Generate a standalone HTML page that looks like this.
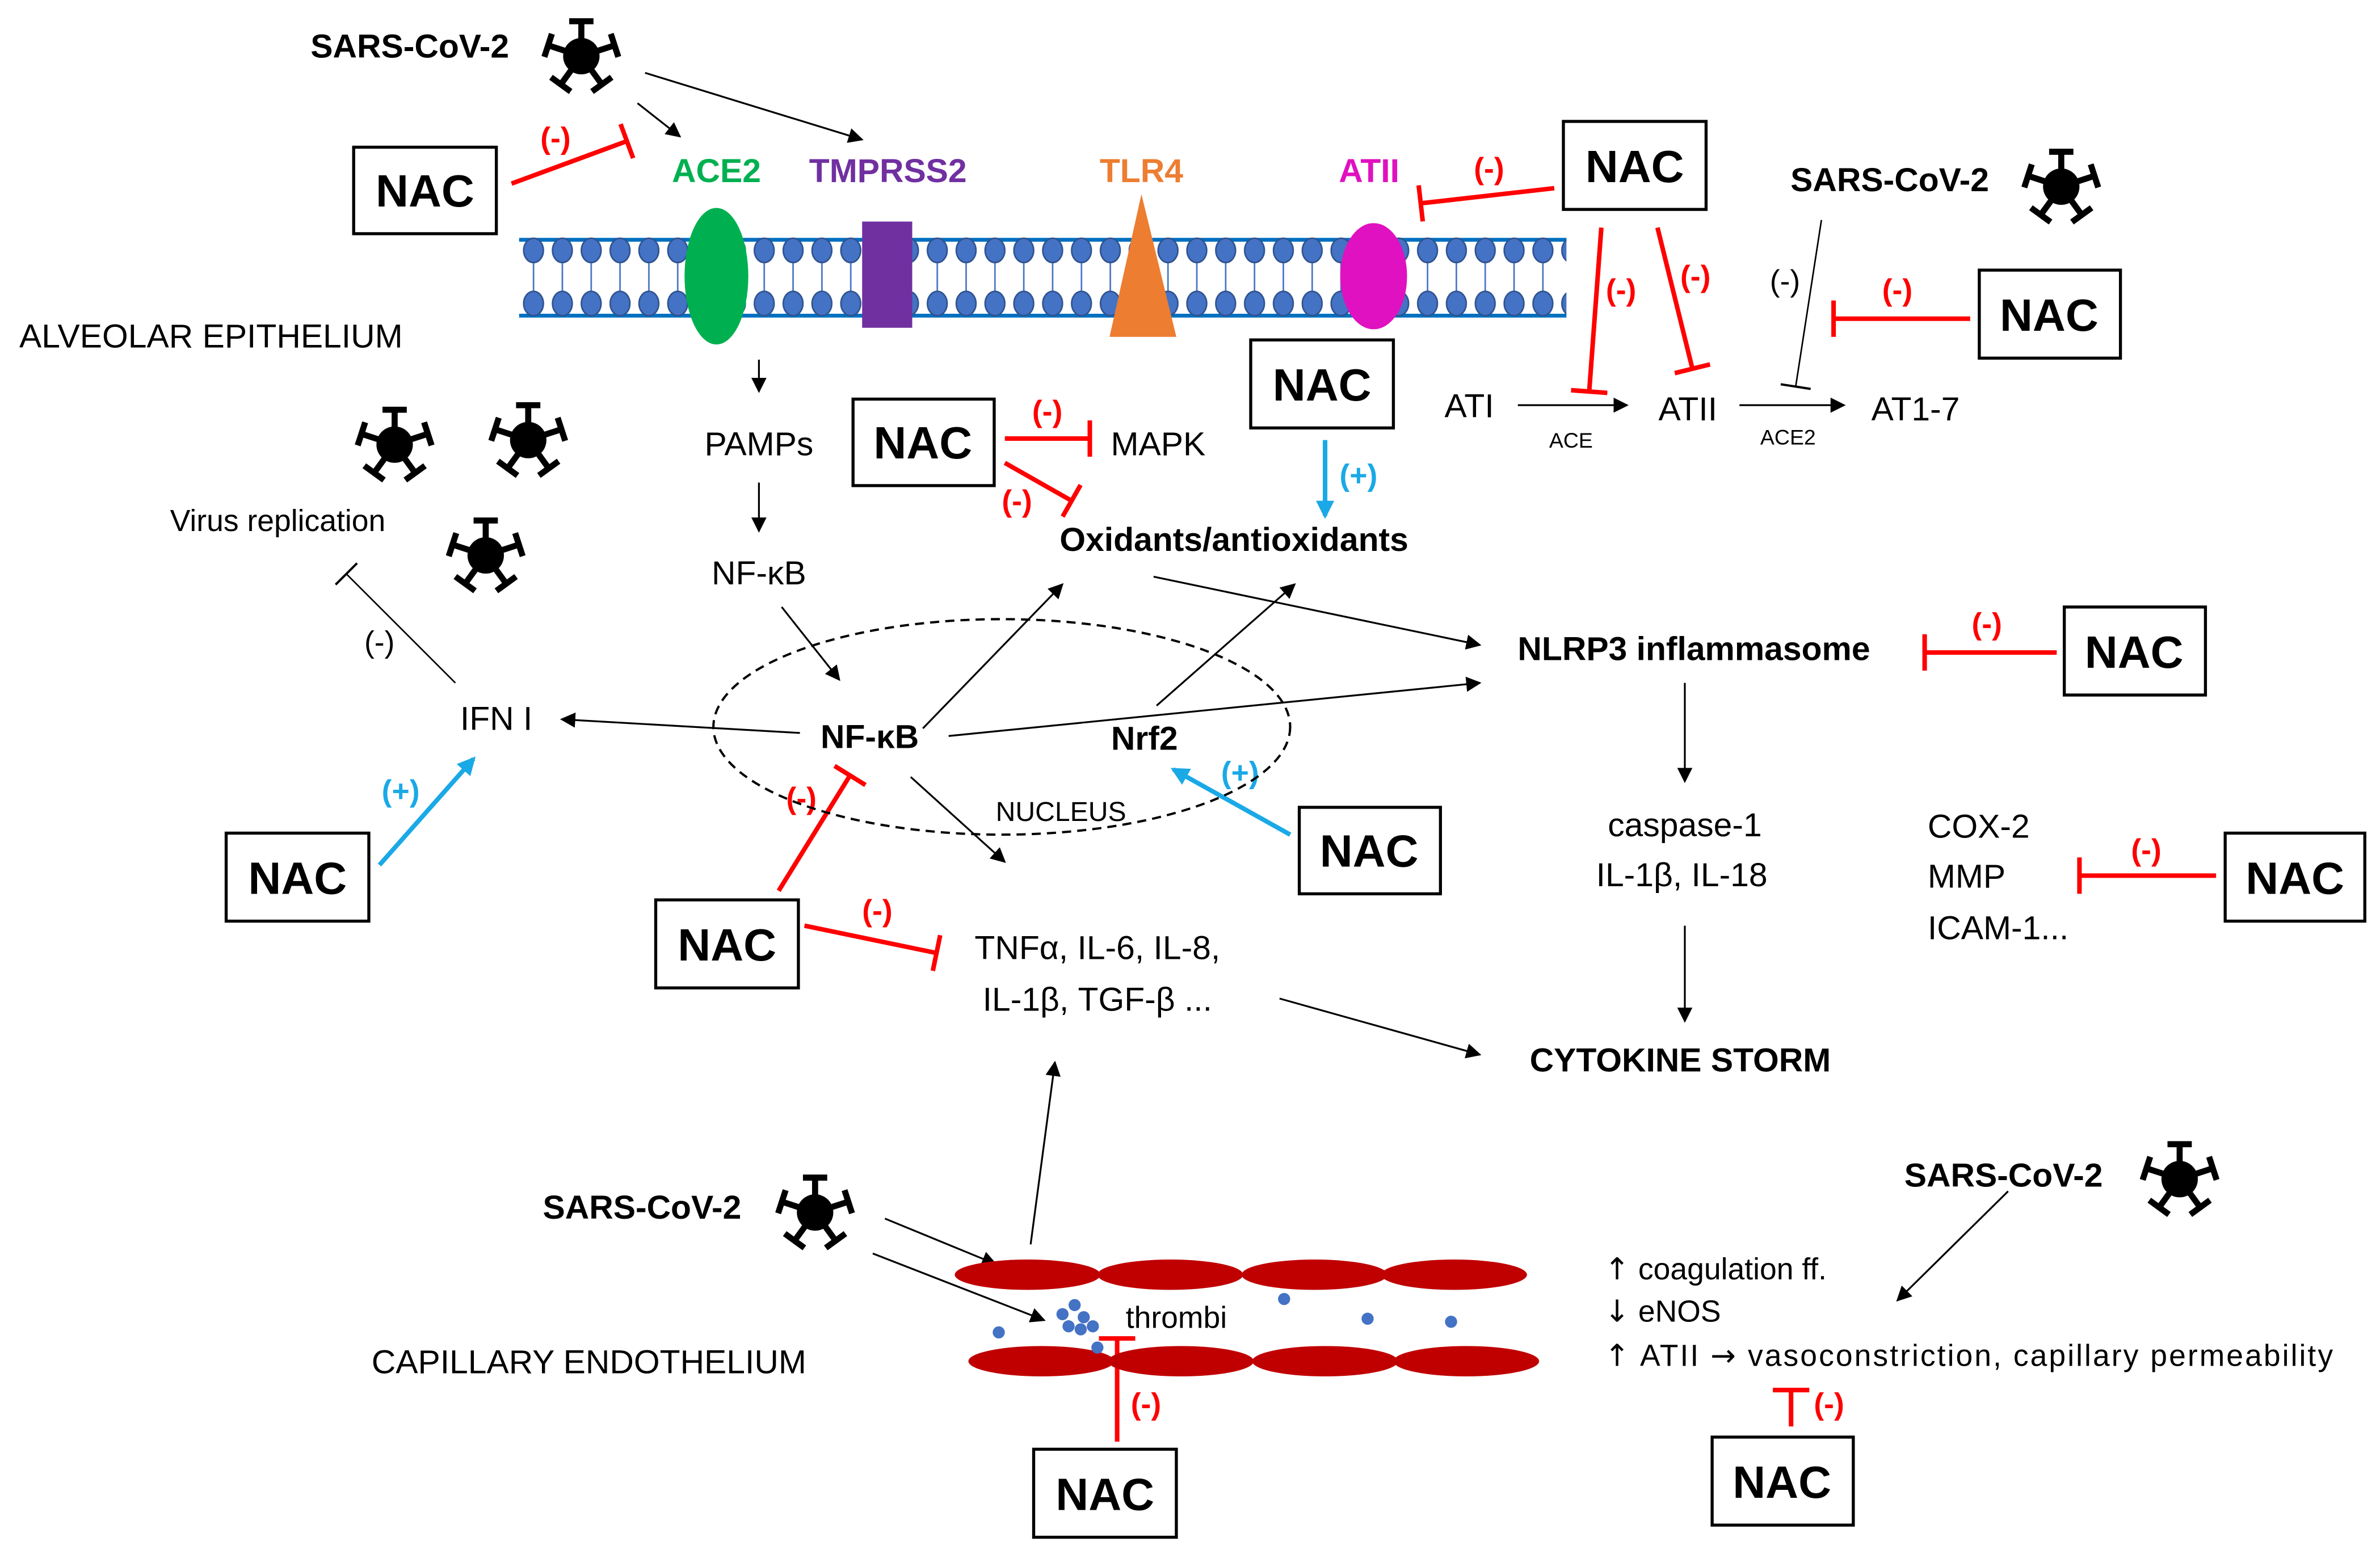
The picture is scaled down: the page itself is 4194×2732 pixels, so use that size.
<!DOCTYPE html>
<html><head><meta charset="utf-8"><style>
html,body{margin:0;padding:0;background:#fff;}
svg{display:block}
text{font-family:"Liberation Sans",sans-serif;}
</style></head><body>
<svg width="4194" height="2732" viewBox="0 0 1568 1021.4" xmlns="http://www.w3.org/2000/svg">
<defs>
<marker id="ab" markerWidth="10" markerHeight="10" refX="9" refY="5" orient="auto" markerUnits="userSpaceOnUse"><path d="M0,0 L10,5 L0,10 z" fill="#000"/></marker>
<marker id="abl" markerWidth="12" markerHeight="12" refX="10" refY="6" orient="auto" markerUnits="userSpaceOnUse"><path d="M0,0 L12,6 L0,12 z" fill="#1aa9e6"/></marker>
<marker id="tr" markerWidth="4" markerHeight="24" refX="2" refY="12" orient="auto" markerUnits="userSpaceOnUse"><rect x="0.5" y="0" width="3" height="24" fill="#f00"/></marker>
<marker id="tk" markerWidth="3" markerHeight="20" refX="1.5" refY="10" orient="auto" markerUnits="userSpaceOnUse"><rect x="0.5" y="0" width="1.5" height="20" fill="#000"/></marker>
<g id="virus">
<circle cx="0" cy="0" r="12" fill="#000"/>
<g stroke="#000" stroke-width="4">
<line x1="0" y1="0" x2="0" y2="-23"/><line x1="-8" y1="-23" x2="8" y2="-23"/>
<g transform="rotate(72)"><line x1="0" y1="0" x2="0" y2="-23"/><line x1="-8" y1="-23" x2="8" y2="-23"/></g>
<g transform="rotate(144)"><line x1="0" y1="0" x2="0" y2="-23"/><line x1="-8" y1="-23" x2="8" y2="-23"/></g>
<g transform="rotate(216)"><line x1="0" y1="0" x2="0" y2="-23"/><line x1="-8" y1="-23" x2="8" y2="-23"/></g>
<g transform="rotate(288)"><line x1="0" y1="0" x2="0" y2="-23"/><line x1="-8" y1="-23" x2="8" y2="-23"/></g>
</g></g>
<pattern id="lip" x="342" y="0" width="19" height="1021" patternUnits="userSpaceOnUse">
<line x1="9.5" y1="165" x2="9.5" y2="200" stroke="#4472c4" stroke-width="1"/>
<ellipse cx="9.5" cy="165" rx="6.5" ry="8" fill="#4472c4" stroke="#2f528f" stroke-width="1"/>
<ellipse cx="9.5" cy="200" rx="6.5" ry="8" fill="#4472c4" stroke="#2f528f" stroke-width="1"/>
</pattern>
</defs>

<line x1="342" y1="158" x2="1032" y2="158" stroke="#0070c0" stroke-width="2.5"/>
<line x1="342" y1="208" x2="1032" y2="208" stroke="#0070c0" stroke-width="2.5"/>
<rect x="342" y="150" width="690" height="62" fill="url(#lip)"/>
<ellipse cx="472" cy="182" rx="21" ry="45" fill="#00b050"/>
<rect x="568" y="146" width="33" height="70" fill="#7030a0"/>
<polygon points="752,128 731,222 775,222" fill="#ed7d31"/>
<ellipse cx="905" cy="182" rx="22" ry="35" fill="#e011c0"/>

<g font-weight="bold" font-size="22" text-anchor="middle">
<text x="472" y="120" fill="#00b050">ACE2</text>
<text x="585" y="120" fill="#7030a0">TMPRSS2</text>
<text x="752" y="120" fill="#ed7d31">TLR4</text>
<text x="902" y="120" fill="#e011c0">ATII</text>
</g>

<use href="#virus" x="383" y="37"/>
<use href="#virus" x="1358" y="123"/>
<use href="#virus" x="260" y="293"/>
<use href="#virus" x="348" y="290"/>
<use href="#virus" x="320" y="366"/>
<use href="#virus" x="537" y="799"/>
<use href="#virus" x="1436" y="777"/>

<g fill="#fff" stroke="#000" stroke-width="2">
<rect x="233" y="97" width="94" height="57"/>
<rect x="1030" y="80" width="94" height="58"/>
<rect x="1304" y="178" width="93" height="58"/>
<rect x="824" y="224" width="94" height="58"/>
<rect x="562" y="263" width="93" height="57"/>
<rect x="1360" y="400" width="93" height="58"/>
<rect x="149" y="549" width="94" height="58"/>
<rect x="856" y="532" width="93" height="57"/>
<rect x="432" y="593" width="94" height="58"/>
<rect x="1466" y="549" width="92" height="58"/>
<rect x="681" y="955" width="94" height="58"/>
<rect x="1128" y="947" width="93" height="58"/>
</g>
<g font-weight="bold" font-size="30" text-anchor="middle">
<text x="280" y="136">NAC</text>
<text x="1077" y="120">NAC</text>
<text x="1350" y="218">NAC</text>
<text x="871" y="264">NAC</text>
<text x="608" y="302">NAC</text>
<text x="1406" y="440">NAC</text>
<text x="196" y="589">NAC</text>
<text x="902" y="571">NAC</text>
<text x="479" y="633">NAC</text>
<text x="1512" y="589">NAC</text>
<text x="728" y="995">NAC</text>
<text x="1174" y="987">NAC</text>
</g>

<g stroke="#f00" stroke-width="3" fill="none" marker-end="url(#tr)">
<line x1="337" y1="121" x2="413" y2="93"/>
<line x1="1024" y1="124" x2="936" y2="134"/>
<line x1="1055" y1="150" x2="1047" y2="258"/>
<line x1="1092" y1="150" x2="1115" y2="243"/>
<line x1="1298" y1="210" x2="1208" y2="210"/>
<line x1="662" y1="289" x2="718" y2="289"/>
<line x1="662" y1="305" x2="706" y2="330"/>
<line x1="1355" y1="430" x2="1268" y2="430"/>
<line x1="1460" y1="577" x2="1370" y2="577"/>
<line x1="513" y1="587" x2="560" y2="511"/>
<line x1="530" y1="610" x2="617" y2="628"/>
<line x1="736" y1="950" x2="736" y2="882"/>
<line x1="1180" y1="940" x2="1180" y2="916"/>
</g>
<g fill="#f00" font-weight="bold" font-size="20" text-anchor="middle">
<text x="366" y="98">(-)</text>
<text x="981" y="118">(-)</text>
<text x="1068" y="198">(-)</text>
<text x="1117" y="189">(-)</text>
<text x="1250" y="198">(-)</text>
<text x="690" y="278">(-)</text>
<text x="670" y="337">(-)</text>
<text x="1309" y="418">(-)</text>
<text x="1414" y="567">(-)</text>
<text x="528" y="533">(-)</text>
<text x="578" y="607">(-)</text>
<text x="755" y="932">(-)</text>
<text x="1205" y="932">(-)</text>
</g>

<g stroke="#1aa9e6" stroke-width="3" marker-end="url(#abl)">
<line x1="873" y1="290" x2="873" y2="340"/>
<line x1="250" y1="570" x2="312" y2="500"/>
<line x1="850" y1="550" x2="773" y2="507"/>
</g>
<g fill="#1aa9e6" font-weight="bold" font-size="20" text-anchor="middle">
<text x="895" y="320">(+)</text>
<text x="264" y="528">(+)</text>
<text x="817" y="516">(+)</text>
</g>

<g stroke="#000" stroke-width="1.2" marker-end="url(#ab)">
<line x1="420" y1="68" x2="448" y2="90"/>
<line x1="425" y1="48" x2="568" y2="92"/>
<line x1="1000" y1="267" x2="1072" y2="267"/>
<line x1="1146" y1="267" x2="1215" y2="267"/>
<line x1="500" y1="237" x2="500" y2="258"/>
<line x1="500" y1="318" x2="500" y2="350"/>
<line x1="515" y1="400" x2="553" y2="448"/>
<line x1="527" y1="483" x2="370" y2="474"/>
<line x1="608" y1="480" x2="700" y2="385"/>
<line x1="762" y1="465" x2="853" y2="385"/>
<line x1="760" y1="380" x2="975" y2="425"/>
<line x1="625" y1="485" x2="975" y2="450"/>
<line x1="1110" y1="450" x2="1110" y2="515"/>
<line x1="1110" y1="610" x2="1110" y2="673"/>
<line x1="600" y1="512" x2="662" y2="568"/>
<line x1="843" y1="658" x2="975" y2="695"/>
<line x1="679" y1="820" x2="695" y2="700"/>
<line x1="583" y1="803" x2="656" y2="833"/>
<line x1="575" y1="826" x2="688" y2="870"/>
<line x1="1323" y1="785" x2="1250" y2="857"/>
</g>
<g stroke="#000" stroke-width="1" marker-end="url(#tk)">
<line x1="1200" y1="145" x2="1183" y2="255"/>
<line x1="300" y1="450" x2="228" y2="378"/>
</g>

<ellipse cx="660" cy="479" rx="190" ry="71" fill="none" stroke="#000" stroke-width="1.5" stroke-dasharray="6,4"/>

<g fill="#c00000">
<ellipse cx="677" cy="840" rx="48" ry="10"/><ellipse cx="771" cy="840" rx="48" ry="10"/>
<ellipse cx="866" cy="840" rx="48" ry="10"/><ellipse cx="958" cy="840" rx="48" ry="10"/>
<ellipse cx="686" cy="897" rx="48" ry="10"/><ellipse cx="778" cy="897" rx="48" ry="10"/>
<ellipse cx="873" cy="897" rx="48" ry="10"/><ellipse cx="966" cy="897" rx="48" ry="10"/>
</g>
<g fill="#4472c4">
<circle cx="700" cy="866" r="4"/><circle cx="708" cy="860" r="4"/><circle cx="714" cy="868" r="4"/><circle cx="704" cy="874" r="4"/><circle cx="720" cy="874" r="4"/><circle cx="712" cy="876" r="4"/>
<circle cx="846" cy="856" r="4"/><circle cx="901" cy="869" r="4"/><circle cx="956" cy="871" r="4"/><circle cx="658" cy="878" r="4"/><circle cx="723" cy="888" r="4"/>
</g>

<g font-size="22" fill="#000">
<text x="270" y="38" font-weight="bold" text-anchor="middle">SARS-CoV-2</text>
<text x="1245" y="126" font-weight="bold" text-anchor="middle">SARS-CoV-2</text>
<text x="423" y="803" font-weight="bold" text-anchor="middle">SARS-CoV-2</text>
<text x="1320" y="782" font-weight="bold" text-anchor="middle">SARS-CoV-2</text>
<text x="139" y="229" text-anchor="middle">ALVEOLAR EPITHELIUM</text>
<text x="388" y="905" text-anchor="middle">CAPILLARY ENDOTHELIUM</text>
<text x="968" y="275" text-anchor="middle">ATI</text>
<text x="1112" y="277" text-anchor="middle">ATII</text>
<text x="1262" y="277" text-anchor="middle">AT1-7</text>
<text x="1176" y="192" text-anchor="middle" font-size="20">(-)</text>
<text x="250" y="430" text-anchor="middle" font-size="20">(-)</text>
<text x="500" y="300" text-anchor="middle">PAMPs</text>
<text x="500" y="385" text-anchor="middle">NF-κB</text>
<text x="763" y="300" text-anchor="middle">MAPK</text>
<text x="813" y="363" text-anchor="middle" font-weight="bold">Oxidants/antioxidants</text>
<text x="183" y="350" text-anchor="middle" font-size="20">Virus replication</text>
<text x="327" y="481" text-anchor="middle">IFN I</text>
<text x="573" y="493" text-anchor="middle" font-weight="bold">NF-κB</text>
<text x="754" y="494" text-anchor="middle" font-weight="bold">Nrf2</text>
<text x="699" y="541" text-anchor="middle" font-size="18">NUCLEUS</text>
<text x="1116" y="435" text-anchor="middle" font-weight="bold">NLRP3 inflammasome</text>
<text x="1110" y="551" text-anchor="middle">caspase-1</text>
<text x="1108" y="584" text-anchor="middle">IL-1β, IL-18</text>
<text x="1107" y="706" text-anchor="middle" font-weight="bold">CYTOKINE STORM</text>
<text x="1270" y="552">COX-2</text>
<text x="1270" y="585">MMP</text>
<text x="1270" y="619">ICAM-1...</text>
<text x="723" y="632" text-anchor="middle">TNFα, IL-6, IL-8,</text>
<text x="723" y="666" text-anchor="middle">IL-1β, TGF-β ...</text>
<text x="775" y="875" text-anchor="middle" font-size="20">thrombi</text>
<text x="1057" y="843" font-size="20"><tspan font-family="DejaVu Sans">↑</tspan> coagulation ff.</text>
<text x="1057" y="871" font-size="20"><tspan font-family="DejaVu Sans">↓</tspan> eNOS</text>
<text x="1057" y="900" font-size="20" textLength="480" lengthAdjust="spacing"><tspan font-family="DejaVu Sans">↑</tspan> ATII <tspan font-family="DejaVu Sans">→</tspan> vasoconstriction, capillary permeability</text>
<text x="1035" y="295" text-anchor="middle" font-size="14">ACE</text>
<text x="1178" y="293" text-anchor="middle" font-size="14">ACE2</text>
</g>
</svg>
</body></html>
